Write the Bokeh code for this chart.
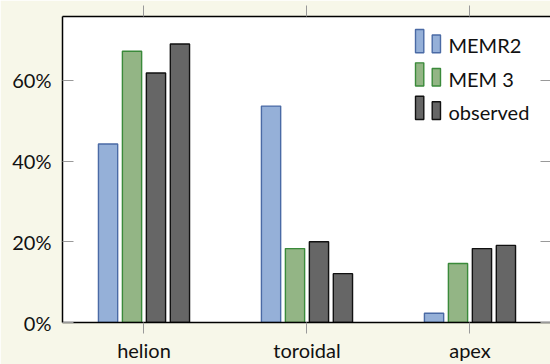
from bokeh.plotting import figure
from bokeh.models import Range1d, LinearAxis, FixedTicker, ColumnDataSource
from bokeh.embed import file_html
from bokeh.resources import INLINE
from bokeh.core.properties import value

# ---- data ----
categories = ["helion", "toroidal", "apex"]
memr2 = [44.2, 53.6, 2.3]
mem3 = [67.2, 18.3, 14.6]
observed_a = [61.8, 20.0, 18.3]
observed_b = [69.0, 12.1, 19.1]
y_ticks = [0, 20, 40, 60]
y_tick_labels = ["0%", "20%", "40%", "60%"]
legend_labels = ["MEMR2", "MEM 3", "observed"]

# ---- styles ----
FONT = "Lato"
FS = "20px"
BG = "#f7f7e9"
TICK = "#999999"
styles = [("#95b0d8", "#4a6aa5"), ("#93b585", "#3a8a3a"),
          ("#666666", "#111111"), ("#666666", "#111111")]
series = [memr2, mem3, observed_a, observed_b]

FW, FH = 488, 307
p = figure(width=550, height=364, output_backend="svg", toolbar_location=None,
           x_range=Range1d(-0.5, 2.494), y_range=Range1d(0, 75.8),
           min_border_left=62, min_border_right=0, min_border_top=16, min_border_bottom=41,
           background_fill_color="white", border_fill_color=BG, outline_line_color=None,
           x_axis_location=None, y_axis_location=None)
p.xgrid.visible = False
p.ygrid.visible = False

xs = list(range(len(categories)))
for i, vals in enumerate(series):
    off = (i - 1.5) * 0.147
    src = ColumnDataSource(dict(x=[x + off for x in xs], top=vals))
    fill, line = styles[i]
    p.vbar(x="x", top="top", bottom=0, width=0.118, source=src,
           fill_color=fill, line_color=line, line_width=1.4)

def style_axis(ax, tin, tout, labels=True):
    ax.axis_line_color = "black"
    ax.axis_line_width = 1.5
    ax.major_tick_in = tin
    ax.major_tick_out = tout
    ax.major_tick_line_color = TICK
    ax.major_tick_line_width = 1
    ax.minor_tick_line_color = None
    ax.major_label_text_font = FONT
    ax.major_label_text_font_size = FS if labels else "0px"
    ax.major_label_text_color = "#111111"

ax_b = LinearAxis(ticker=FixedTicker(ticks=xs),
                  major_label_overrides={i: c for i, c in enumerate(categories)})
style_axis(ax_b, 0, 11)
ax_b.major_label_standoff = 4
p.add_layout(ax_b, "below")

ax_t = LinearAxis(ticker=FixedTicker(ticks=xs),
                  major_label_overrides={i: "" for i in xs})
style_axis(ax_t, 0, 11, labels=False)
ax_t.major_label_standoff = 0
p.add_layout(ax_t, "above")

ax_l = LinearAxis(ticker=FixedTicker(ticks=y_ticks),
                  major_label_overrides={t: l for t, l in zip(y_ticks, y_tick_labels)})
style_axis(ax_l, 11, 0)
ax_l.major_label_standoff = 11
p.add_layout(ax_l, "left")

ax_r = LinearAxis(ticker=FixedTicker(ticks=y_ticks),
                  major_label_overrides={t: "" for t in y_ticks})
style_axis(ax_r, 10, 0, labels=False)
ax_r.axis_line_color = None
ax_r.major_label_standoff = 0
p.add_layout(ax_r, "right")

# ---- legend (pixel coordinates inside the frame) ----
p.extra_x_ranges = {"px": Range1d(0, FW)}
p.extra_y_ranges = {"px": Range1d(FH, 0)}
row_bottom = [36.3 + 33.5 * k for k in range(len(legend_labels))]
for k, lab in enumerate(legend_labels):
    fill, line = styles[k]
    yb = row_bottom[k]
    p.quad(left=[353, 369.7], right=[361.3, 378], top=[yb - 23.3, yb - 17.7],
           bottom=[yb, yb], fill_color=fill, line_color=line, line_width=1.4,
           x_range_name="px", y_range_name="px")
p.text(x=[386] * len(legend_labels), y=[b - 7.5 for b in row_bottom], text=legend_labels,
       text_font=value(FONT), text_font_size=FS, text_baseline="middle",
       text_color="#111111", x_range_name="px", y_range_name="px")

open("out.html", "w").write(file_html(p, INLINE))
